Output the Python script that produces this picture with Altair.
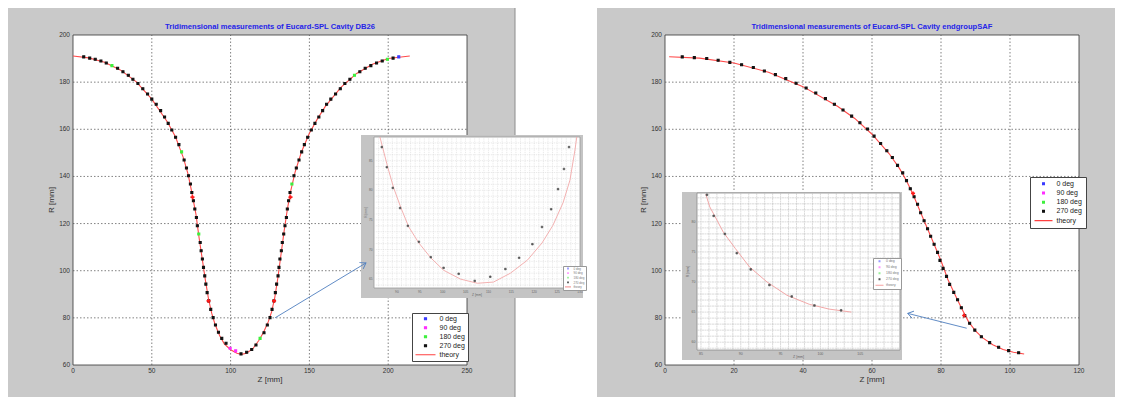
import altair as alt
import pandas as pd
import math

FONT = "Liberation Sans"
W, H = 1107, 389

# ---------------- data: main plot DB26 (left) ----------------
DB26_Z = [6.8, 10.6, 14.1, 17.7, 21.1, 24.7, 28.3, 31.7, 35.1, 38.0, 41.2, 44.3, 47.3, 50.0, 52.8,
          55.6, 58.1, 60.4, 62.7, 65.1, 67.2, 68.9, 70.5, 72.0, 73.3, 74.5, 75.4, 76.4, 77.3, 78.3,
          78.9, 79.8, 80.7, 81.3, 82.1, 82.8, 83.6, 84.3, 85.1, 86.1, 87.4, 88.9, 90.4, 92.3, 94.4,
          97.1, 99.7, 103.2, 106.6, 110.2, 113.4, 116.1, 118.7, 121.2, 123.3, 125.0, 126.3, 127.5,
          128.4, 129.2, 130.1, 130.7, 131.3, 132.2, 132.8, 133.7, 134.5, 135.4, 136.0, 136.8, 137.7,
          138.9, 140.2, 141.7, 143.4, 145.1, 146.8, 148.9, 151.2, 153.5, 156.0, 158.4, 160.9, 163.6,
          166.6, 169.6, 172.5, 175.7, 178.6, 182.0, 185.4, 189.0, 192.6, 196.2, 199.5, 203.1, 206.7]
DB26_R = [190.7, 190.2, 189.7, 189.0, 188.1, 187.0, 185.9, 184.4, 182.9, 181.2, 179.4, 177.2, 175.0,
          172.8, 170.6, 167.9, 165.2, 162.5, 159.7, 156.6, 153.5, 150.4, 147.0, 143.6, 140.3, 136.8,
          133.2, 129.7, 126.2, 122.6, 119.1, 115.6, 112.0, 108.5, 105.0, 101.4, 97.8, 94.3, 90.7,
          87.2, 83.6, 80.1, 77.0, 73.9, 71.3, 69.2, 67.1, 66.0, 64.7, 65.4, 66.6, 68.5, 71.3, 73.7,
          77.0, 80.1, 83.6, 87.2, 90.7, 94.3, 97.8, 101.4, 105.0, 108.5, 112.0, 115.6, 119.1, 122.6,
          126.2, 129.7, 133.2, 136.8, 140.3, 143.6, 147.0, 150.4, 153.5, 156.6, 159.7, 162.5, 165.2,
          167.9, 170.6, 172.8, 175.0, 177.2, 179.4, 181.2, 182.9, 184.4, 185.9, 187.0, 188.1, 189.0,
          189.7, 190.2, 190.7]
DB26_SPECIAL = {"180 deg": [5, 21, 31, 52, 71, 88, 94],
                "90 deg": [46, 47],
                "0 deg": [96]}
DB26_THEORY_Z = [0, 10, 20, 30, 40, 50, 60, 65, 70, 73, 75, 78, 80, 82, 84, 86, 88, 90, 93, 96, 100,
                 104, 107, 110, 114, 118, 121, 124, 126, 128, 130, 132, 134, 136, 138, 141, 145, 150,
                 155, 160, 170, 180, 190, 200, 213.7]
DB26_THEORY_R = [191.1, 190.3, 188.4, 185.2, 180.2, 172.8, 163.0, 156.8, 148.0, 141.0, 134.5, 124.0,
                 114.0, 105.0, 96.0, 88.0, 82.0, 77.5, 72.5, 69.0, 66.5, 65.0, 64.5, 65.0, 66.8, 70.5,
                 74.0, 78.5, 82.5, 88.5, 97.0, 107.0, 117.0, 126.0, 133.5, 142.0, 150.5, 158.3, 164.3,
                 169.6, 177.8, 183.7, 187.6, 190.0, 191.1]
DB26_MARK_Z = [75.8, 86.0, 127.6, 138.0]
DB26_MARK_R = [131.2, 87.2, 87.2, 131.2]

# ---------------- data: main plot endgroupSAF (right) ----------------
SAF_Z = [5.0, 8.5, 12.1, 15.4, 18.8, 22.2, 25.6, 28.8, 32.0, 35.0, 38.0, 40.9, 43.7, 46.5, 49.1, 51.6,
         54.1, 56.5, 58.7, 60.6, 62.5, 64.3, 65.9, 67.4, 68.9, 70.0, 71.1, 72.2, 73.2, 74.1, 75.1,
         76.1, 77.0, 78.0, 79.0, 79.7, 80.6, 81.6, 82.5, 83.7, 84.8, 85.9, 86.9, 88.3, 89.8, 91.7,
         94.1, 96.7, 99.6, 102.5]
SAF_R = [190.7, 190.4, 190.0, 189.3, 188.4, 187.4, 186.2, 184.7, 183.2, 181.5, 179.5, 177.5, 175.4,
         173.0, 170.6, 168.2, 165.6, 162.8, 160.1, 157.1, 154.0, 150.9, 148.0, 144.7, 141.5, 138.2,
         134.8, 131.4, 128.2, 124.6, 121.2, 117.8, 114.6, 111.2, 107.8, 104.4, 101.0, 97.6, 94.2,
         90.8, 87.7, 84.3, 80.9, 77.7, 74.8, 72.0, 69.5, 67.5, 66.1, 65.2]
SAF_SPECIAL = {}
SAF_THEORY_Z = [1.2, 10, 20, 30, 40, 50, 55, 60, 65, 68, 70, 72, 74, 76, 78, 80, 82, 84, 86, 88, 90,
                92, 95, 98, 101, 104.1]
SAF_THEORY_R = [190.8, 190.2, 188.1, 184.2, 178.1, 169.8, 164.6, 157.9, 149.6, 143.3, 138.2, 132.0,
                125.0, 118.1, 111.2, 104.2, 96.3, 90.0, 84.0, 78.3, 74.5, 71.6, 68.6, 66.6, 65.4, 64.7]
SAF_MARK_Z = [71.9, 86.7]
SAF_MARK_R = [132.8, 81.0]

# ---------------- data: insets (zoomed screenshots) ----------------
INL_CZ = [86.3, 88.0, 89.3, 90.9, 92.6, 94.8, 97.4, 100.2, 103.9, 107.6, 111.1, 114.8, 118.5, 121.7,
          124.1, 126.3, 127.8, 128.9, 129.3]
INL_CR = [89.0, 83.9, 80.4, 77.0, 73.8, 71.1, 68.6, 66.5, 65.0, 64.3, 64.5, 66.0, 68.2, 71.1, 74.1,
          77.9, 81.7, 86.8, 89.0]
INL_PZ = [86.7, 87.8, 89.1, 90.7, 92.4, 94.8, 97.4, 100.2, 103.5, 107.0, 110.4, 113.7, 116.7, 119.6,
          121.7, 123.7, 125.2, 126.5, 127.6]
INL_PR = [87.3, 83.9, 80.4, 77.0, 74.0, 71.3, 68.7, 66.9, 65.9, 64.7, 65.4, 66.7, 68.6, 70.9, 73.8,
          76.8, 80.2, 83.6, 87.3]
INR_CZ = [85.6, 86.1, 86.8, 87.8, 89.3, 91.1, 93.3, 95.8, 98.6, 101.1, 103.9]
INR_CR = [84.6, 82.5, 80.8, 78.3, 75.6, 72.5, 70.0, 67.8, 66.3, 65.5, 65.0]
INR_PZ = [85.75, 86.6, 88.0, 89.5, 91.25, 93.6, 96.4, 99.25, 102.6]
INR_PR = [84.5, 81.0, 78.0, 74.8, 72.1, 69.5, 67.6, 66.1, 65.3]

# tick labels
DB26_XT = [0, 50, 100, 150, 200, 250]
SAF_XT = [0, 20, 40, 60, 80, 100, 120]
MAIN_YT = [60, 80, 100, 120, 140, 160, 180, 200]
INL_XT = [90, 95, 100, 105, 110, 115, 120, 125, 130]
INL_YT = [65, 70, 75, 80, 85]
INR_XT = [85, 90, 95, 100, 105]
INR_YT = [60, 65, 70, 75, 80]

# arrows (tail z, tail r, tip z, tip r) in the coordinates of their main plot
ARROW_L = [128.2, 80.0, 185.9, 103.3]
ARROW_R = [87.45, 75.6, 70.35, 81.9]

SERIES = ["0 deg", "90 deg", "180 deg", "270 deg", "theory"]
MAIN_COLORS = ["#3a3aff", "#ff2cff", "#3cf03c", "#111111", "#ff4040"]
INSET_COLORS = ["#9a9aff", "#ff9aff", "#9af09a", "#555555", "#f4a0a0"]
SQ = "M-0.1,-0.1L0.1,-0.1L0.1,0.1L-0.1,0.1Z"
LN = "M-1,0L1,0"
SHAPES = [SQ, SQ, SQ, SQ, LN]
ARROWHEAD = "M-0.6,0.9L0,0L0.6,0.9"

one = pd.DataFrame({"k": [0]})


def sc(dom, rng):
    return alt.Scale(domain=dom, range=rng, nice=False, zero=False)


def legend(x, y, size, clip, rowpad, lfs, pad, loff, col, stroke):
    return alt.Legend(title=None, orient="none", legendX=x, legendY=y, symbolSize=size,
                      clipHeight=clip, rowPadding=rowpad, labelFontSize=lfs, labelFont=FONT,
                      labelColor=col, padding=pad, labelOffset=loff, fillColor="white",
                      strokeColor=stroke, cornerRadius=0, symbolStrokeWidth=1.2, zindex=3)


def points_df(z, r, special):
    s = ["270 deg"] * len(z)
    for k, idx in special.items():
        for i in idx:
            s[i] = k
    return pd.DataFrame({"z": z, "r": r, "s": s})


def arrow_layers(xs, ys, a):
    adf = pd.DataFrame({"z0": [a[0]], "r0": [a[1]], "z1": [a[2]], "r1": [a[3]]})
    rule = alt.Chart(adf).mark_rule(color="#4f7fc0", strokeWidth=0.9).encode(
        x=alt.X("z0:Q", scale=xs, axis=None), y=alt.Y("r0:Q", scale=ys, axis=None),
        x2="z1:Q", y2="r1:Q")
    xr, yr = xs.range, ys.range
    dx = (a[2] - a[0]) / (xs.domain[1] - xs.domain[0]) * (xr[1] - xr[0])
    dy = (a[3] - a[1]) / (ys.domain[1] - ys.domain[0]) * (yr[1] - yr[0])
    ang = math.degrees(math.atan2(dx, -dy)) % 360
    head = alt.Chart(adf).mark_point(shape=ARROWHEAD, filled=False, size=150, strokeWidth=0.9,
                                     color="#4f7fc0", angle=ang, opacity=1).encode(
        x=alt.X("z1:Q", scale=xs, axis=None), y=alt.Y("r1:Q", scale=ys, axis=None))
    return [rule, head]


def axis_text(xs, ys, xdom, ydom, xt, yt, st):
    """Tick labels and axis titles, placed through the plot's own scales."""
    out = []
    out.append(alt.Chart(pd.DataFrame({"v": xt, "t": [str(v) for v in xt]})).mark_text(
        font=FONT, fontSize=st["lfs"], color=st["col"], baseline="top", align="center",
        dy=st["lpad"]).encode(
        x=alt.X("v:Q", scale=xs, axis=None), y=alt.YDatum(ydom[0], scale=ys, axis=None),
        text="t:N"))
    out.append(alt.Chart(pd.DataFrame({"v": yt, "t": [str(v) for v in yt]})).mark_text(
        font=FONT, fontSize=st["lfs"], color=st["col"], baseline="middle", align="right",
        dx=-st["lpad"]).encode(
        y=alt.Y("v:Q", scale=ys, axis=None), x=alt.XDatum(xdom[0], scale=xs, axis=None),
        text="t:N"))
    out.append(alt.Chart(one).mark_text(
        text="Z [mm]", font=FONT, fontSize=st["tfs"], color=st["col"], baseline="middle",
        align="center", dy=st["xt_off"]).encode(
        x=alt.XDatum((xdom[0] + xdom[1]) / 2, scale=xs, axis=None),
        y=alt.YDatum(ydom[0], scale=ys, axis=None)))
    out.append(alt.Chart(one).mark_text(
        text="R [mm]", font=FONT, fontSize=st["tfs"], color=st["col"], baseline="middle",
        align="center", angle=270, dy=-st["yt_off"]).encode(
        x=alt.XDatum(xdom[0], scale=xs, axis=None),
        y=alt.YDatum((ydom[0] + ydom[1]) / 2, scale=ys, axis=None)))
    return out


def plot_group(xs, ys, xdom, ydom, grid_x, grid_y, xt, yt, ax_style, theory, pts, leg, colors,
               grid_style, line_style, pt_size, pt_sw, marks=None, title=None, arrow=None):
    layers = []
    layers.append(alt.Chart(one).mark_rect(fill="white", stroke=grid_style["frame"],
                                           strokeWidth=0.8).encode(
        x=alt.XDatum(xdom[0], scale=xs, axis=None), x2=alt.X2Datum(xdom[1]),
        y=alt.YDatum(ydom[0], scale=ys, axis=None), y2=alt.Y2Datum(ydom[1])))
    layers.append(alt.Chart(pd.DataFrame({"v": grid_x})).mark_rule(
        color=grid_style["color"], strokeWidth=grid_style["width"],
        strokeDash=grid_style["dash"]).encode(
        x=alt.X("v:Q", scale=xs, axis=None),
        y=alt.YDatum(ydom[0], scale=ys, axis=None), y2=alt.Y2Datum(ydom[1])))
    layers.append(alt.Chart(pd.DataFrame({"v": grid_y})).mark_rule(
        color=grid_style["color"], strokeWidth=grid_style["width"],
        strokeDash=grid_style["dash"]).encode(
        y=alt.Y("v:Q", scale=ys, axis=None),
        x=alt.XDatum(xdom[0], scale=xs, axis=None), x2=alt.X2Datum(xdom[1])))
    layers.extend(axis_text(xs, ys, xdom, ydom, xt, yt, ax_style))
    tdf = pd.DataFrame({"z": theory[0], "r": theory[1], "i": list(range(len(theory[0])))})
    layers.append(alt.Chart(tdf).mark_line(color=line_style[0], strokeWidth=line_style[1]).encode(
        x=alt.X("z:Q", scale=xs, axis=None), y=alt.Y("r:Q", scale=ys, axis=None), order="i:Q"))
    layers.append(alt.Chart(pts).mark_point(filled=False, size=pt_size, strokeWidth=pt_sw,
                                            opacity=1).encode(
        x=alt.X("z:Q", scale=xs, axis=None), y=alt.Y("r:Q", scale=ys, axis=None),
        color=alt.Color("s:N", scale=alt.Scale(domain=SERIES, range=colors), legend=leg),
        shape=alt.Shape("s:N", scale=alt.Scale(domain=SERIES, range=SHAPES), legend=leg),
        fill=alt.Fill("s:N", scale=alt.Scale(domain=SERIES, range=colors), legend=None)))
    if marks is not None:
        mdf = pd.DataFrame({"z": marks[0], "r": marks[1]})
        layers.append(alt.Chart(mdf).mark_point(shape="cross", filled=True, size=16,
                                                color="#ff1a1a", opacity=1).encode(
            x=alt.X("z:Q", scale=xs, axis=None), y=alt.Y("r:Q", scale=ys, axis=None)))
    if title is not None:
        layers.append(alt.Chart(one).mark_text(text=title, font=FONT, fontSize=7.6,
                                               fontWeight="bold", color="#2424e8",
                                               baseline="middle").encode(
            x=alt.XDatum((xdom[0] + xdom[1]) / 2, scale=xs, axis=None), y=alt.value(19)))
    if arrow is not None:
        layers.extend(arrow_layers(xs, ys, arrow))
    return alt.layer(*layers)


MAIN_GRID = {"color": "#4a4a4a", "width": 0.7, "dash": [1.5, 2], "frame": "#333333"}
LEFT_IN_GRID = {"color": "#d2d2d2", "width": 0.5, "dash": [1, 0.8], "frame": "#9a9a9a"}
RIGHT_IN_GRID = {"color": "#c2c2c2", "width": 0.6, "dash": [2, 0.5], "frame": "#8a8a8a"}
MAIN_AX = {"lfs": 6.5, "tfs": 8, "col": "#333333", "lpad": 3, "xt_off": 15, "yt_off": 21}
INL_AX = {"lfs": 3.2, "tfs": 3.2, "col": "#666666", "lpad": 1.5, "xt_off": 7, "yt_off": 8}
INR_AX = {"lfs": 3.5, "tfs": 3.5, "col": "#666666", "lpad": 1.5, "xt_off": 7, "yt_off": 9}

# ---------------- left main ----------------
xL = sc([0, 250], [65, 459])
yL = sc([60, 200], [357, 27])
mainL = plot_group(
    xL, yL, [0, 250], [60, 200],
    [50, 100, 150, 200], [80, 100, 120, 140, 160, 180], DB26_XT, MAIN_YT, MAIN_AX,
    (DB26_THEORY_Z, DB26_THEORY_R), points_df(DB26_Z, DB26_R, DB26_SPECIAL),
    legend(404, 305, 400, 6.5, 1.0, 7, 2.5, 3, "#222222", "#444444"), MAIN_COLORS,
    MAIN_GRID, ("#ff4a4a", 1.1), 400, 1.1, marks=(DB26_MARK_Z, DB26_MARK_R),
    title="Tridimensional measurements of Eucard-SPL Cavity DB26")

# ---------------- right main ----------------
xR = sc([0, 120], [657, 1071])
yR = sc([60, 200], [357, 27])
mainR = plot_group(
    xR, yR, [0, 120], [60, 200],
    [20, 40, 60, 80, 100], [80, 100, 120, 140, 160, 180], SAF_XT, MAIN_YT, MAIN_AX,
    (SAF_THEORY_Z, SAF_THEORY_R), points_df(SAF_Z, SAF_R, SAF_SPECIAL),
    legend(1022, 169, 324, 6.5, 1.2, 7, 3.5, 3, "#222222", "#444444"), MAIN_COLORS,
    MAIN_GRID, ("#ff4a4a", 1.1), 400, 1.1, marks=(SAF_MARK_Z, SAF_MARK_R),
    title="Tridimensional measurements of Eucard-SPL Cavity endgroupSAF",
    arrow=ARROW_R)

# ---------------- left inset ----------------
xIL = sc([85, 130], [366, 572])
yIL = sc([63.5, 89], [280, 129])
frameIL = alt.Chart(one).mark_rect(fill="#c4c4c4").encode(
    x=alt.value(353), x2=alt.value(575), y=alt.value(127), y2=alt.value(290))
insetL = alt.layer(frameIL, plot_group(
    xIL, yIL, [85, 130], [63.5, 89],
    list(range(86, 130)), list(range(64, 89)), INL_XT, INL_YT, INL_AX,
    (INL_CZ, INL_CR), points_df(INL_PZ, INL_PR, {}),
    legend(555, 258, 36, 3, 0.6, 3, 1, 1.5, "#777777", "#999999"), INSET_COLORS,
    LEFT_IN_GRID, ("#f2a8a8", 0.9), 250, 0.7))

# ---------------- right inset ----------------
xIR = sc([84.5, 110], [689, 892])
yIR = sc([58.7, 84.8], [342, 185])
frameIR = alt.Chart(one).mark_rect(fill="#c4c4c4").encode(
    x=alt.value(674), x2=alt.value(894), y=alt.value(184), y2=alt.value(352))
insetR = alt.layer(frameIR, plot_group(
    xIR, yIR, [84.5, 110], [58.7, 84.8],
    list(range(85, 111)), list(range(59, 85)), INR_XT, INR_YT, INR_AX,
    (INR_CZ, INR_CR), points_df(INR_PZ, INR_PR, {}),
    legend(865, 250, 64, 3.5, 1, 3.5, 1.5, 1.5, "#777777", "#999999"), INSET_COLORS,
    RIGHT_IN_GRID, ("#f2a8a8", 1.0), 280, 0.7))

# ---------------- arrow into the left inset (drawn on top) ----------------
arrowL = alt.layer(*arrow_layers(xL, yL, ARROW_L))

# ---------------- grey figure backgrounds ----------------
bg = alt.layer(
    alt.Chart(one).mark_rect(fill="#c9c9c9").encode(
        x=alt.value(0), x2=alt.value(507), y=alt.value(0), y2=alt.value(H)),
    alt.Chart(one).mark_rule(color="#8c8c8c", strokeWidth=1).encode(
        x=alt.value(507), y=alt.value(0), y2=alt.value(H)),
    alt.Chart(one).mark_rect(fill="#c9c9c9").encode(
        x=alt.value(589), x2=alt.value(1110), y=alt.value(0), y2=alt.value(H)),
)

chart = alt.layer(bg, mainL, mainR, insetL, insetR, arrowL).resolve_scale(
    x="independent", y="independent", color="independent", shape="independent",
    fill="independent"
).properties(
    width=W, height=H, padding=0, autosize=alt.AutoSizeParams(type="none"),
    background="white"
).configure_view(stroke=None)

chart.save("out.html", embed_options={"renderer": "svg", "actions": False})
